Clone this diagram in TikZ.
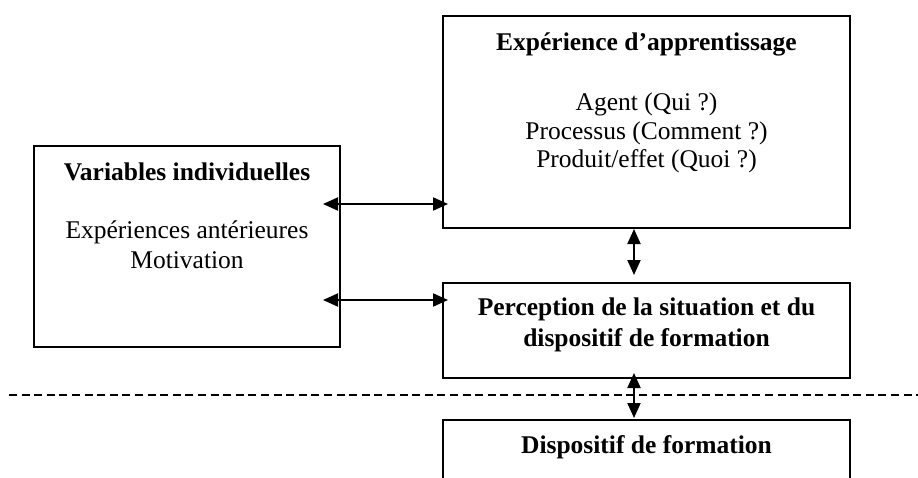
\documentclass[tikz,border=0pt]{standalone}
\usepackage{fontspec}
\setmainfont{Liberation Serif}
\usetikzlibrary{arrows.meta}
\begin{document}
\begin{tikzpicture}[x=1pt,y=-1pt,
  box/.style={draw,line width=2pt,outer sep=0pt,inner sep=0pt,anchor=north west},
  ghost/.style={outer sep=0pt,inner sep=0pt,anchor=north west},
  ttl/.style={font=\fontsize{25.5}{30}\selectfont\bfseries,anchor=base,inner sep=0pt},
  txt/.style={font=\fontsize{25.5}{30}\selectfont,anchor=base,inner sep=0pt},
  arr/.style={{Triangle[length=15pt,width=13pt]}-{Triangle[length=15pt,width=13pt]},line width=2pt},
  sep/.style={line width=1.8pt,dash pattern=on 8pt off 4.6pt}]
\useasboundingbox (0,0) rectangle (918,477);
\clip (0,0) rectangle (918,477);
% boxes
\node[box,minimum width=306pt,minimum height=201pt] (vars) at (34,146) {};
\node[box,minimum width=407pt,minimum height=212pt] (exp) at (443,16) {};
\node[box,minimum width=407pt,minimum height=95pt] (perc) at (443,283) {};
\node[ghost,minimum width=407pt,minimum height=80pt] (disp) at (443,420) {};
\draw[line width=2pt] (disp.south west) -- (disp.north west) -- (disp.north east) -- (disp.south east);
% texts
\node[ttl] (varsT) at (187,180) {Variables individuelles};
\node[txt] (varsA) at (187,238) {Expériences antérieures};
\node[txt] (varsB) at (187,268) {Motivation};
\node[ttl] (expT) at (646.5,50) {Expérience d’apprentissage};
\node[txt] (expA) at (646.5,110) {Agent (Qui ?)};
\node[txt] (expB) at (646.5,139) {Processus (Comment ?)};
\node[txt] (expC) at (646.5,167) {Produit/effet (Quoi ?)};
\node[ttl] (percA) at (646.5,315) {Perception de la situation et du};
\node[ttl] (percB) at (646.5,346) {dispositif de formation};
\node[ttl] (dispT) at (646.5,453) {Dispositif de formation};
% connectors
\coordinate (ya) at (0,204);
\coordinate (yb) at (0,300);
\draw[arr,shorten <=-17pt,shorten >=-5pt] (vars.east |- ya) -- (exp.west |- ya);
\draw[arr,shorten <=-17pt,shorten >=-5pt] (vars.east |- yb) -- (perc.west |- yb);
\draw[arr,shorten <=1pt,shorten >=8pt] ([xshift=-12.5pt]exp.south) -- ([xshift=-12.5pt]perc.north);
\draw[arr,shorten <=-5pt,shorten >=2pt] ([xshift=-12.5pt]perc.south) -- ([xshift=-12.5pt]disp.north);
% separator
\coordinate (dl) at (9,395);
\coordinate (dr) at (918,395);
\draw[sep] (dl) -- (dr);
\end{tikzpicture}
\end{document}
